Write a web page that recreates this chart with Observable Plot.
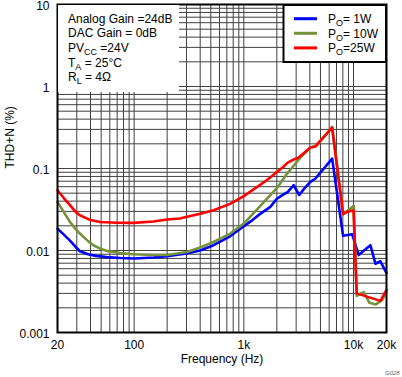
<!DOCTYPE html>
<html><head><meta charset="utf-8">
<script src="https://cdn.jsdelivr.net/npm/d3@7"></script>
<script src="https://cdn.jsdelivr.net/npm/@observablehq/plot@0.6"></script>
<style>
body{margin:0;background:#fff;}
svg{font-family:"Liberation Sans",Arial,sans-serif;}
</style>
</head><body><div id="chart"></div>
<script>
// ---- data ----
const seriesNames = ["PO= 1W", "PO= 10W", "PO=25W"];
const seriesColors = ["#0000ff", "#76923c", "#ff0000"];

const freq1W = [20, 23, 26, 29, 32, 38, 45, 56, 75, 100, 150, 200, 300, 400, 530, 750, 1000, 1200, 1413, 1745, 2010, 2230, 2520, 2850, 3200, 3600, 4050, 4500, 6390, 8040, 9720, 11160, 14260, 15850, 17600, 20000];
const thd1W  = [0.0185, 0.0155, 0.0132, 0.0112, 0.0098, 0.0090, 0.0086, 0.0083, 0.0081, 0.0080, 0.0082, 0.0085, 0.0092, 0.0100, 0.0116, 0.0149, 0.0198, 0.0235, 0.028, 0.034, 0.043, 0.047, 0.052, 0.0625, 0.0475, 0.058, 0.0687, 0.0755, 0.132, 0.0151, 0.0158, 0.0088, 0.0116, 0.0069, 0.0074, 0.0053];

const freq10W = [20, 23, 26, 29, 32, 38, 42.5, 50, 56, 75, 98, 150, 199, 303, 400, 530, 752, 1000, 1413, 2010, 2500, 2850, 3280, 4050, 4590, 6390, 8040, 10060, 10700, 12400, 14000, 16000, 18300, 20000];
const thd10W  = [0.039, 0.029, 0.0223, 0.0185, 0.0161, 0.0130, 0.0116, 0.0104, 0.0099, 0.0093, 0.0090, 0.0088, 0.0088, 0.0096, 0.0109, 0.0127, 0.0161, 0.0213, 0.035, 0.058, 0.088, 0.108, 0.136, 0.180, 0.187, 0.321, 0.0277, 0.035, 0.0028, 0.0031, 0.0023, 0.0022, 0.0025, 0.0031];

const freq25W = [20, 23, 26, 29, 32, 40, 49, 70, 98, 150, 199, 260, 400, 530, 750, 1000, 1620, 2300, 2500, 2750, 3165, 4050, 4500, 6390, 8040, 8700, 10000, 10700, 17600, 20000];
const thd25W  = [0.0543, 0.043, 0.0357, 0.030, 0.0269, 0.0235, 0.0223, 0.0218, 0.0217, 0.0226, 0.0239, 0.0246, 0.028, 0.031, 0.037, 0.046, 0.072, 0.105, 0.117, 0.126, 0.136, 0.18, 0.187, 0.316, 0.0277, 0.0295, 0.031, 0.0030, 0.00243, 0.0033];

const xTicks = [20, 100, 1000, 10000, 20000];
const xTickLabels = ["20", "100", "1k", "10k", "20k"];
const yTicks = [0.001, 0.01, 0.1, 1, 10];
const yTickLabels = ["0.001", "0.01", "0.1", "1", "10"];

const xLabel = "Frequency (Hz)";
const yLabel = "THD+N (%)";
const conditions = [
  ["Analog Gain =24dB", "", ""],
  ["DAC Gain = 0dB", "", ""],
  ["PV", "CC", " =24V"],
  ["T", "A", " = 25°C"],
  ["R", "L", " = 4Ω"]
];
const legendParts = [["P", "O", "= 1W"], ["P", "O", "= 10W"], ["P", "O", "=25W"]];
const figId = "G028";

// ---- build table ----
const rows = [];
[[freq1W, thd1W], [freq10W, thd10W], [freq25W, thd25W]].forEach(([fs, vs], k) => {
  fs.forEach((f, i) => rows.push({series: seriesNames[k], f, v: vs[i]}));
});

// log grid lines
const gridX = [];
for (let d = 10; d <= 10000; d *= 10) for (let m = 1; m <= 9; m++) { const v = d * m; if (v >= 20 && v <= 20000) gridX.push(v); }
const gridY = [];
for (let d = 0.001; d < 10; d *= 10) for (let m = 1; m <= 9; m++) gridY.push(+(d * m).toPrecision(3));
gridY.push(10);

const xFmt = new Map(xTicks.map((t, i) => [t, xTickLabels[i]]));
const yFmt = new Map(yTicks.map((t, i) => [t, yTickLabels[i]]));

const chart = Plot.plot({
  width: 402, height: 377,
  marginLeft: 57, marginRight: 16, marginTop: 4, marginBottom: 45,
  style: {fontFamily: "Liberation Sans, Arial, sans-serif", fontSize: "12px", color: "black", background: "white", overflow: "visible"},
  x: {type: "log", domain: [20, 20000]},
  y: {type: "log", domain: [0.001, 10]},
  color: {domain: seriesNames, range: seriesColors},
  marks: [
    Plot.ruleX(gridX, {x: d => d, stroke: "#404040", strokeWidth: 1}),
    Plot.ruleY(gridY, {y: d => d, stroke: "#404040", strokeWidth: 1}),
    Plot.line(rows, {x: "f", y: "v", z: "series", stroke: "series", strokeWidth: 2.6, curve: "linear"}),
    Plot.frame({stroke: "black", strokeWidth: 2}),
    Plot.axisX({ticks: xTicks, tickFormat: d => xFmt.get(d), tickSize: 0, tickPadding: 8, label: null, fontSize: 12}),
    Plot.axisY({ticks: yTicks, tickFormat: d => yFmt.get(d), tickSize: 0, tickPadding: 8, dy: 2, label: null, fontSize: 12}),
    Plot.text([xLabel], {text: d => d, frameAnchor: "bottom", dy: 30, fontSize: 12}),
    Plot.text([yLabel], {text: d => d, frameAnchor: "left", dx: -47, rotate: -90, fontSize: 12})
  ]
});
document.getElementById("chart").appendChild(chart);

// ---- annotation box & legend ----
const svg = d3.select(chart);
const ann = svg.append("g").attr("text-anchor", "start");
ann.append("rect").attr("x", 58).attr("y", 5).attr("width", 121).attr("height", 87).attr("fill", "white");
conditions.forEach((c, i) => {
  const t = ann.append("text").attr("x", 68).attr("y", 22.5 + i * 14.7).attr("font-size", 12)
    .attr("fill", "black").attr("text-anchor", "start");
  t.append("tspan").text(c[0]);
  if (c[1]) {
    t.append("tspan").attr("font-size", 9).attr("dy", 3).text(c[1]);
    t.append("tspan").attr("dy", -3).text(c[2]);
  }
});

const leg = svg.append("g").attr("text-anchor", "start");
leg.append("rect").attr("x", 283.5).attr("y", 5).attr("width", 102.5).attr("height", 57)
  .attr("fill", "white").attr("stroke", "black").attr("stroke-width", 2);
legendParts.forEach((p, i) => {
  const y = 18.7 + i * 14.6;
  leg.append("line").attr("x1", 294).attr("x2", 317).attr("y1", y).attr("y2", y)
    .attr("stroke", seriesColors[i]).attr("stroke-width", 3);
  const t = leg.append("text").attr("x", 328).attr("y", y + 4.3).attr("font-size", 12)
    .attr("fill", "black").attr("text-anchor", "start");
  t.append("tspan").text(p[0]);
  t.append("tspan").attr("font-size", 9).attr("dy", 3).text(p[1]);
  t.append("tspan").attr("dy", -3).text(p[2]);
});

svg.append("text").attr("x", 385).attr("y", 375).attr("font-size", 6).attr("font-style", "italic")
  .attr("text-anchor", "start").attr("fill", "#666").text(figId);
</script>
</body></html>
